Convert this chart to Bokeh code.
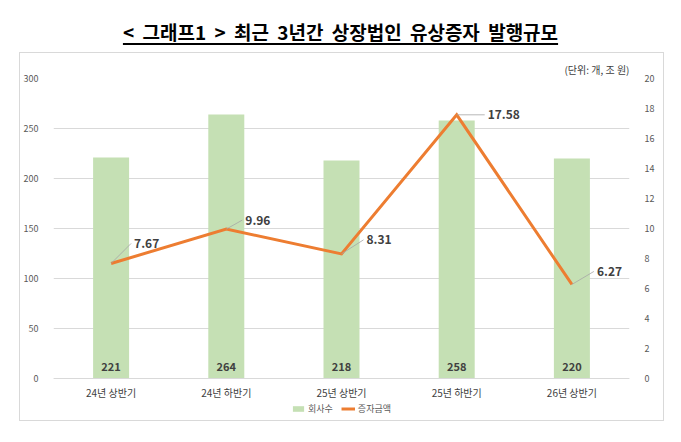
from bokeh.plotting import figure
from bokeh.models import (Range1d, LinearAxis, FixedTicker, Legend, LegendItem, Div)
from bokeh.layouts import column
from bokeh.embed import file_html
from bokeh.resources import INLINE
from bokeh.core.properties import value
import numpy as np

# ---- data ----
categories = ["24년 상반기", "24년 하반기", "25년 상반기", "25년 하반기", "26년 상반기"]
companies = [221, 264, 218, 258, 220]          # 회사수 (개)
amounts = [7.67, 9.96, 8.31, 17.58, 6.27]      # 증자금액 (조 원)
left_ticks = [0, 50, 100, 150, 200, 250, 300]
right_ticks = [0, 2, 4, 6, 8, 10, 12, 14, 16, 18, 20]
title_text = "&lt; 그래프1 &gt; 최근 3년간 상장법인 유상증자 발행규모"
unit_text = "(단위: 개, 조 원)"

# ---- style ----
FONT = "Noto Sans CJK KR"
FW = 576                       # frame width
AXIS_PX = 300                  # pixels between 0 and top tick
BELOW_PX = 40                  # room under the zero line for labels + legend
L, R, T, B = 32, 34, 25, 2
BAR_COLOR = "#C5E0B4"
LINE_COLOR = "#ED7D31"
GRID = "#D9D9D9"
# leader/label offsets in screen pixels (dx right, dy up)
label_dx = [20, 16, 22, 28, 22]
label_dy = [20, 9, 14, 0, 13]

n = len(categories)
xs = np.arange(n) + 0.5
px_per_x = FW / n
lspan = left_ticks[-1] - left_ticks[0]
rspan = right_ticks[-1] - right_ticks[0]
px_per_ly = AXIS_PX / lspan
px_per_ry = AXIS_PX / rspan

p = figure(frame_width=FW, frame_height=AXIS_PX + BELOW_PX, output_backend="svg",
           toolbar_location=None,
           x_range=Range1d(0, n),
           y_range=Range1d(left_ticks[0] - BELOW_PX / px_per_ly, left_ticks[-1]),
           min_border_left=L, min_border_right=R, min_border_top=T, min_border_bottom=B,
           background_fill_color="white", border_fill_color="white")
p.margin = (0, 0, 0, 20)
p.styles = {"outline": "1px solid #D9D9D9"}
p.outline_line_color = None
p.extra_y_ranges = {"right": Range1d(right_ticks[0] - BELOW_PX / px_per_ry,
                                     right_ticks[-1])}

# unit note as the figure title (top right)
p.title.text = unit_text
p.title.align = "right"
p.title.text_font = FONT
p.title.text_font_size = "10px"
p.title.text_font_style = "normal"
p.title.text_color = "#404040"
p.title.standoff = 3

# x axis drawn on the zero line
p.xaxis.fixed_location = 0
p.xaxis.ticker = FixedTicker(ticks=list(xs))
p.xaxis.major_label_overrides = {float(x): c for x, c in zip(xs, categories)}
p.xaxis.axis_line_color = GRID
p.xaxis.major_tick_line_color = None
p.xaxis.minor_tick_line_color = None
p.xaxis.major_label_text_font = FONT
p.xaxis.major_label_text_font_size = "10px"
p.xaxis.major_label_text_color = "#404040"
p.xaxis.major_label_standoff = 0

p.yaxis.ticker = FixedTicker(ticks=left_ticks)
p.yaxis.axis_line_color = None
p.yaxis.major_tick_line_color = None
p.yaxis.minor_tick_line_color = None
p.yaxis.major_label_text_font = FONT
p.yaxis.major_label_text_font_size = "9px"
p.yaxis.major_label_text_color = "#595959"
p.yaxis.major_label_standoff = 9

ra = LinearAxis(y_range_name="right", ticker=FixedTicker(ticks=right_ticks))
ra.axis_line_color = None
ra.major_tick_line_color = None
ra.minor_tick_line_color = None
ra.major_label_text_font = FONT
ra.major_label_text_font_size = "9px"
ra.major_label_text_color = "#595959"
ra.major_label_standoff = 9
p.add_layout(ra, "right")

p.xgrid.grid_line_color = None
p.ygrid.grid_line_color = GRID
p.ygrid.grid_line_width = 1

# bars
bars = p.vbar(x=xs, top=companies, width=36 / px_per_x, fill_color=BAR_COLOR,
              line_color=None)
p.text(x=xs, y=[0] * n, text=[str(v) for v in companies], y_offset=-12,
       text_align="center", text_baseline="middle", text_font=value(FONT),
       text_font_size="11px", text_font_style="bold", text_color="#404040")

# line
line = p.line(x=xs, y=amounts, y_range_name="right", line_color=LINE_COLOR,
              line_width=3, line_join="miter")

# leader lines + labels
x1 = xs + np.array(label_dx) / px_per_x
y1 = np.array(amounts) + np.array(label_dy) / px_per_ry
p.segment(x0=xs, y0=amounts, x1=x1, y1=y1, y_range_name="right",
          line_color="#A6A6A6", line_width=0.8)
p.text(x=x1, y=y1, text=[f"{v:.2f}" for v in amounts], x_offset=3,
       y_range_name="right", text_align="left", text_baseline="middle",
       text_font=value(FONT), text_font_size="12px", text_font_style="bold",
       text_color="#404040")

# legend under the x-axis labels
legend = Legend(items=[LegendItem(label="회사수", renderers=[bars]),
                       LegendItem(label="증자금액", renderers=[line])],
                orientation="horizontal", location="bottom_center")
legend.label_text_font = FONT
legend.label_text_font_size = "9px"
legend.label_text_color = "#595959"
legend.label_height = 10
legend.glyph_width = 14
legend.glyph_height = 7
legend.label_standoff = 3
legend.spacing = 8
legend.padding = 0
legend.margin = 3
legend.border_line_color = None
legend.background_fill_alpha = 0
p.add_layout(legend)

title_div = Div(
    text=f'<div style="font-family:\'{FONT}\';font-size:19px;font-weight:bold;'
         f'color:black;text-align:center;width:681px;line-height:26px;padding-top:19px;'
         f'word-spacing:4px;text-decoration:underline;text-decoration-thickness:1.5px;'
         f'text-underline-offset:3px;">{title_text}</div>',
    width=681, height=53, margin=(0, 0, 0, 0))

layout = column(title_div, p, spacing=0)
open("out.html", "w").write(file_html(layout, INLINE))
